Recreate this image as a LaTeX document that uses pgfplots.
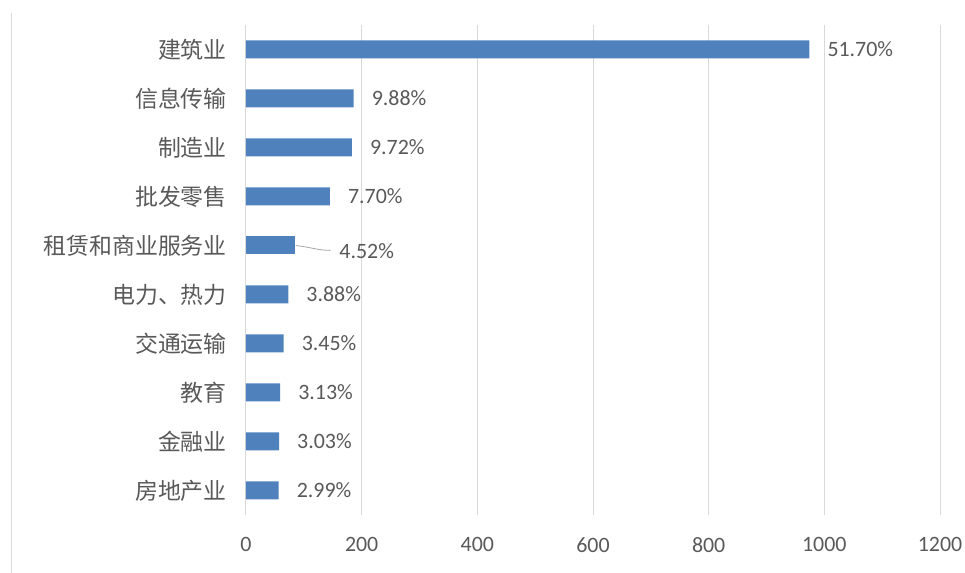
\documentclass[border=0pt]{standalone}
\usepackage{pgfplots}
\pgfplotsset{compat=1.18}
\usepackage{fontspec}
\setmainfont{Carlito}
\newfontfamily\cjk{Noto Sans CJK SC}
\definecolor{barblue}{RGB}{79,129,189}
\definecolor{txt}{RGB}{89,89,89}
\definecolor{gridc}{RGB}{217,217,217}
\begin{document}
\begin{tikzpicture}
\begin{axis}[
 scale only axis, width=694bp, height=490bp,
 xbar, bar width=18bp, bar shift=0pt,
 xmin=0, xmax=1200, ymin=-0.5, ymax=9.5,
 xtick={0,200,...,1200},
 ytick={0,...,9},
 yticklabels={房地产业,金融业,教育,交通运输,电力、热力,租赁和商业服务业,批发零售,制造业,信息传输,建筑业},
 xmajorgrids, major grid style={draw=gridc, line width=1bp},
 axis line style={draw=none},
 major tick length=0pt,
 tick style={draw=none},
 xticklabel style={font=\fontsize{22}{24}\selectfont, text=txt, inner sep=0pt, anchor=north, yshift=-22bp},
 yticklabel style={font=\cjk\fontsize{23}{25}\selectfont, text=txt, inner sep=0pt, anchor=east, xshift=-19bp},
 /pgf/number format/assume math mode=true,
 /pgf/number format/1000 sep={},
 scaled x ticks=false,
 clip=false,
]
\addplot[fill=barblue, draw=none,
  nodes near coords, point meta=explicit symbolic,
  nodes near coords style={anchor=west, inner sep=0pt, xshift=18bp, font=\fontsize{22}{24}\selectfont, text=txt}]
 coordinates {
 (56.3,0) [2.99\%]
 (57.1,1) [3.03\%]
 (59.0,2) [3.13\%]
 (65.0,3) [3.45\%]
 (73.1,4) [3.88\%]
 (145.1,6) [7.70\%]
 (183.1,7) [9.72\%]
 (186.1,8) [9.88\%]
 (974,9) [51.70\%]
 };
\addplot[fill=barblue, draw=none,
  nodes near coords, point meta=explicit symbolic,
  nodes near coords style={anchor=west, inner sep=0pt, xshift=44bp, yshift=-6bp, font=\fontsize{22}{24}\selectfont, text=txt}]
 coordinates {
 (85.2,5) [4.52\%]
 };
\draw[color=gray!70, line width=0.8bp] (axis cs:86,5) .. controls (axis cs:110,4.97) and (axis cs:125,4.9) .. (axis cs:146,4.9);
\coordinate (sw) at (rel axis cs:0,0);
\coordinate (ne) at (rel axis cs:1,1);
\end{axis}
\draw[color=gridc, line width=1bp] ([xshift=-234bp,yshift=12bp]sw |- ne) -- ([xshift=-234bp,yshift=-58bp]sw);
\pgfresetboundingbox
\path[use as bounding box] ([xshift=-246bp,yshift=-58bp]sw) rectangle ([xshift=25bp,yshift=25bp]ne);
\end{tikzpicture}
\end{document}
